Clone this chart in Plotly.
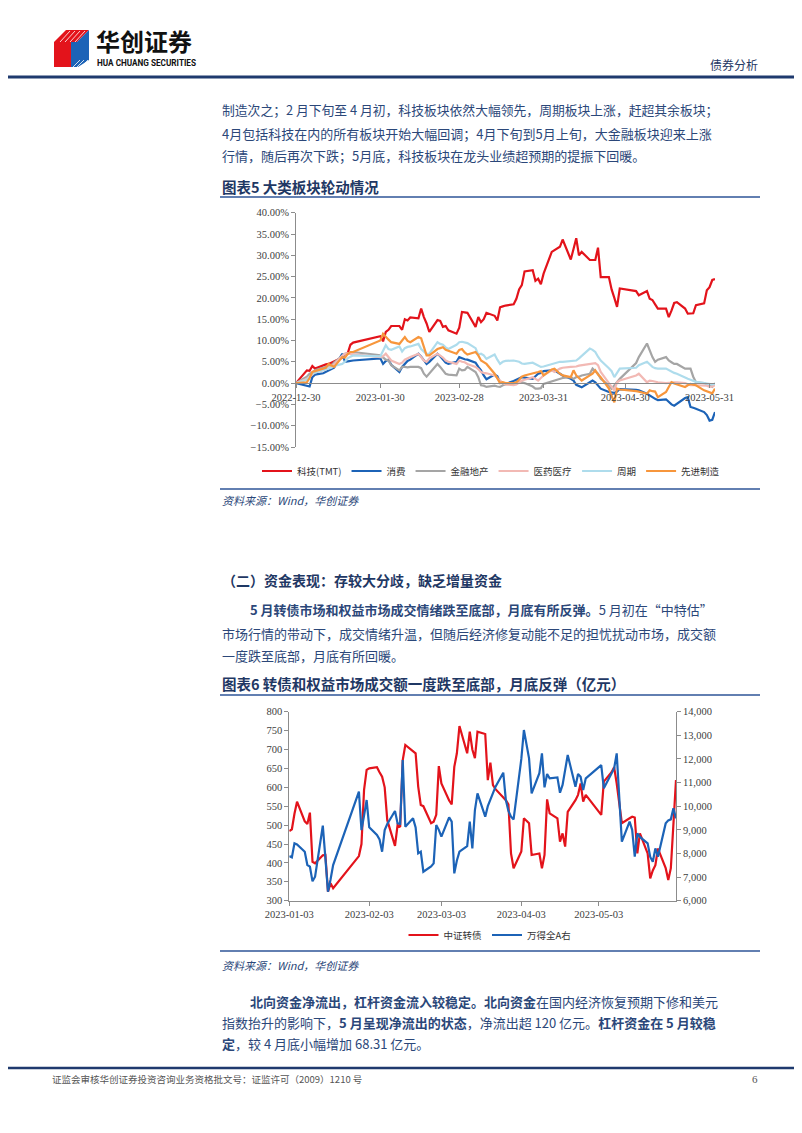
import plotly.graph_objects as go

# the page body adds an 8px offset, so the figure is laid out in page pixels
# and shifted back by that amount
PAGE_W, PAGE_H = 802, 1133
OFF = 8
W, H = PAGE_W - OFF, PAGE_H - 2 * OFF
CJK = "Noto Sans CJK SC"
NUM = "Liberation Serif"
BODY = "#2b4779"
HEAD = "#1f3864"
RULE = "#2e5597"


def px(x):
    return (x - OFF) / W


def py(y):
    return 1 - (y - OFF) / H


# ---------------- data ----------------
trade_days = [
    "2022-12-30",
    "2023-01-03", "2023-01-04", "2023-01-05", "2023-01-06", "2023-01-09", "2023-01-10", "2023-01-11",
    "2023-01-12", "2023-01-13", "2023-01-16", "2023-01-17", "2023-01-18", "2023-01-19", "2023-01-20",
    "2023-01-30", "2023-01-31",
    "2023-02-01", "2023-02-02", "2023-02-03", "2023-02-06", "2023-02-07", "2023-02-08", "2023-02-09",
    "2023-02-10", "2023-02-13", "2023-02-14", "2023-02-15", "2023-02-16", "2023-02-17", "2023-02-20",
    "2023-02-21", "2023-02-22", "2023-02-23", "2023-02-24", "2023-02-27", "2023-02-28",
    "2023-03-01", "2023-03-02", "2023-03-03", "2023-03-06", "2023-03-07", "2023-03-08", "2023-03-09",
    "2023-03-10", "2023-03-13", "2023-03-14", "2023-03-15", "2023-03-16", "2023-03-17", "2023-03-20",
    "2023-03-21", "2023-03-22", "2023-03-23", "2023-03-24", "2023-03-27", "2023-03-28", "2023-03-29",
    "2023-03-30", "2023-03-31",
    "2023-04-03", "2023-04-04", "2023-04-06", "2023-04-07", "2023-04-10", "2023-04-11", "2023-04-12",
    "2023-04-13", "2023-04-14", "2023-04-17", "2023-04-18", "2023-04-19", "2023-04-20", "2023-04-21",
    "2023-04-24", "2023-04-25", "2023-04-26", "2023-04-27", "2023-04-28",
    "2023-05-04", "2023-05-05", "2023-05-08", "2023-05-09", "2023-05-10", "2023-05-11", "2023-05-12",
    "2023-05-15", "2023-05-16", "2023-05-17", "2023-05-18", "2023-05-19", "2023-05-22", "2023-05-23",
    "2023-05-24", "2023-05-25", "2023-05-26", "2023-05-29", "2023-05-30", "2023-05-31",
    "2023-06-01", "2023-06-02",
]

# 图表5: cumulative return of sector groups (%)
tmt = [0, 3.0, 2.9, 4.0, 3.4, 4.2, 4.4, 4.5, 4.8, 5.0, 6.0, 6.8, 7.0, 9.0, 9.5, 11.0, 9.8,
       12.0, 12.5, 13.4, 13.4, 12.5, 15.0, 14.7, 15.4, 15.2, 17.5, 15.5, 14.0, 12.0, 14.8, 14.6, 13.2, 13.4, 12.4, 11.6, 13.0,
       16.7, 16.6, 16.5, 13.2, 15.5, 14.3, 15.0, 16.5, 15.8, 14.7, 17.8, 18.0, 18.2,
       18.5, 19.8, 22.0, 23.0, 26.2, 26.5, 24.0, 24.5, 23.2, 25.7,
       30.8, 31.2, 32.0, 33.7, 29.0, 31.5, 34.0, 30.0, 30.8, 28.9, 28.9, 28.9, 31.8, 24.9, 24.9, 22.0, 20.0, 17.9, 22.2,
       21.6, 20.6, 21.6, 19.8, 19.5, 18.5, 17.5, 17.5, 15.5, 17.0, 18.8, 19.0, 17.5, 16.3, 16.3, 16.4, 18.3, 18.7, 21.8, 22.5,
       24.2, 24.4]
consumer = [0, -0.5, -0.8, 1.4, 2.0, 2.3, 2.6, 3.0, 3.2, 3.6, 6.9, 5.0, 5.1, 5.2, 5.3, 5.8, 4.5,
            5.2, 5.5, 4.3, 2.6, 3.8, 4.5, 5.2, 5.5, 6.9, 6.2, 5.4, 4.5, 5.0, 6.9, 6.3, 5.5, 4.8, 4.5, 5.0, 6.1,
            5.8, 5.6, 5.5, 4.8, 3.8, 3.0, 1.8, 0.9, 2.0, 1.6, 0.2, 0.0, -0.2,
            0.5, 0.8, 1.0, 1.4, 1.3, 1.0, 1.6, 2.2, 2.4, 2.8,
            3.0, 3.0, 2.2, 1.8, 1.0, 0.6, -0.4, -0.8, -1.0, 0.2, 0.6, 0.2, -0.6, -1.3, -2.1, -2.2, -2.3, -2.0, -1.4,
            -1.6, -1.7, -2.5, -3.0, -3.3, -3.7, -4.0, -3.8, -4.5, -5.0, -5.3, -4.8, -3.5, -3.3, -5.6, -5.8, -6.0, -6.8, -7.5, -8.8,
            -8.6, -6.8]
finance_re = [0, 1.5, 2.2, 2.5, 3.0, 3.5, 3.8, 4.2, 4.0, 4.8, 6.4, 6.9, 7.0, 7.2, 7.3, 6.5, 6.0,
              5.5, 5.3, 4.2, 3.0, 3.8, 3.8, 3.7, 3.8, 3.8, 3.5, 2.2, 1.5, 2.2, 4.5, 3.8, 3.0, 2.2, 2.0, 1.8, 3.4,
              3.0, 3.1, 3.8, 2.6, 1.4, -0.5, -0.6, -0.9, -0.6, -0.8, -0.9, -0.5, -0.3,
              0.0, 0.2, 0.3, 0.2, 0.0, -0.8, -1.3, -1.3, -1.2, -0.2,
              0.4, 0.6, 1.0, 1.2, 1.4, 1.0, 1.4, 1.5, 1.8, 2.2, 3.4, 2.8, 2.2, 1.0, -0.5, -1.3, -0.5, 0.2, 1.0,
              4.7, 6.1, 9.3, 7.5, 6.1, 5.0, 5.5, 6.1, 5.3, 4.9, 4.5, 4.5, 3.4, 3.4, 3.4, 1.5, 0.2, 0.0, -0.3, -0.6,
              -0.9, 0.0]
healthcare = [0, 1.0, 1.5, 2.0, 2.5, 3.0, 3.2, 3.5, 3.8, 4.5, 6.4, 6.9, 7.0, 6.8, 6.8, 6.1, 6.3,
              6.9, 6.0, 5.3, 4.5, 4.8, 5.5, 5.9, 6.1, 6.9, 6.2, 5.3, 5.0, 5.8, 6.9, 6.5, 6.0, 5.3, 5.0, 4.5, 5.3,
              5.0, 4.9, 4.5, 3.8, 3.3, 2.6, 2.4, 2.3, 1.8, 1.2, 0.6, 0.0, -0.3,
              -0.5, -0.3, 0.2, 0.6, 0.8, 1.4, 1.0, 0.6, 1.2, 1.8,
              3.0, 2.6, 3.4, 3.6, 3.8, 3.8, 3.9, 4.1, 4.2, 4.6, 4.7, 4.7, 4.2, 2.6, 0.0, -1.0, -1.7, 0.2, 0.6,
              1.8, 2.2, 0.2, 0.6, 0.5, 0.3, 0.2, 0.0, 0.0, 0.1, 0.2, 0.2, 0.0, -0.2, -0.5, -0.5, -0.5, -0.5, -0.6, -0.9,
              -0.8, -0.5]
cyclical = [0, 0.8, 1.5, 2.2, 2.5, 3.0, 3.2, 3.5, 3.6, 4.0, 4.5, 5.0, 5.8, 6.2, 6.5, 6.3, 7.5,
            8.9, 8.0, 7.8, 8.6, 7.4, 8.2, 8.5, 8.6, 9.2, 8.0, 7.5, 6.8, 6.9, 9.6, 9.2, 9.0, 8.4, 8.0, 9.0, 9.6,
            9.7, 9.5, 9.4, 8.2, 6.7, 6.9, 6.5, 5.7, 6.7, 5.5, 4.5, 5.0, 5.2,
            5.3, 5.2, 5.0, 4.6, 4.5, 4.8, 4.5, 4.2, 3.8, 3.9,
            4.5, 4.6, 5.0, 5.0, 5.2, 5.2, 5.3, 5.8, 6.4, 8.1, 7.8, 7.3, 6.2, 5.3, 3.5, 2.8, 1.4, 2.5, 3.4,
            3.6, 4.2, 5.0, 4.4, 3.8, 3.5, 3.4, 3.4, 3.0, 2.6, 2.4, 2.2, 1.2, 1.0, 0.8, 0.6, 0.3, 0.0, -0.1, -0.3,
            -0.3, -0.2]
manufacturing = [0, 0.2, 1.2, 2.6, 2.8, 3.4, 3.6, 4.5, 4.2, 3.8, 6.1, 6.0, 6.8, 7.3, 7.3, 10.0, 11.6,
                 10.8, 10.2, 9.6, 9.2, 10.0, 10.8, 9.9, 9.6, 10.8, 10.5, 8.5, 6.5, 6.5, 8.0, 8.2, 8.4, 7.8, 7.6, 6.9, 7.8,
                 8.0, 7.2, 6.7, 7.3, 6.5, 5.3, 4.8, 4.5, 2.2, 1.0, 0.0, 0.2, 0.0,
                 0.0, 0.2, 0.8, 1.5, 1.8, 2.2, 2.4, 2.6, 2.8, 1.8,
                 3.2, 3.4, 2.2, 1.8, 1.4, 3.0, 1.8, 1.2, 0.6, 1.8, 2.2, 3.0, 2.0, 1.4, -1.3, -3.0, -4.5, -1.3, -1.5,
                 -1.9, -2.0, -2.5, -1.7, -1.9, -2.0, -3.3, -2.1, -0.9, 0.2, -0.1, -0.3, -0.9, -0.5, -0.2, -0.4, -0.5, -1.7, -1.9, -2.1,
                 -2.4, -1.3]

sector_names = ["科技(TMT)", "消费", "金融地产", "医药医疗", "周期", "先进制造"]
sector_colors = ["#e3131b", "#1c63b7", "#a5a5a5", "#f2b9b4", "#aedcec", "#f7963c"]
chart5_ticks = ["2022-12-30", "2023-01-30", "2023-02-28", "2023-03-31", "2023-04-30", "2023-05-31"]

# 图表6: turnover (亿元)
cb_turnover = [484, 489, 530, 562, 510, 503, 533, 403, 399, 420, 421, 324, 346, 333, 418, 450,
               593, 646, 650, 653, 640, 628, 600, 513, 445, 500, 495, 672, 712, 696, 690, 602, 553, 550, 505, 509,
               527, 656, 610, 565, 555, 654, 690, 762, 690, 747, 700, 677, 747, 741, 619, 665, 606, 595, 575, 566, 555, 425, 386,
               430, 518, 505, 421, 425, 386, 421, 568, 531, 518, 456, 478, 443, 535, 566, 580, 610, 562, 580,
               527, 615, 640, 653, 610, 557, 505, 518, 522, 520, 425, 478, 425, 359, 380, 394, 438, 386, 355, 386,
               500, 619]
a_turnover = [7890, 7834, 8426, 8380, 8074, 7510, 7439, 6820, 7016, 9180, 7800, 6380, 6900, 7510, 10614, 8990,
              9600, 10261, 9104, 8780, 8596, 8074, 8990, 9245, 9795, 9273, 9250, 11954, 9132, 9485, 9104, 8003, 8074, 7227, 7450, 7580,
              9203, 9000, 8709, 9527, 9344, 7157, 7700, 8074, 8314, 9344, 8215, 9837, 10543, 9555, 10000, 10261, 10500, 10826, 11418,
              10261, 9800, 9555, 9443,
              12000, 13224, 12025, 10543, 11400, 12236, 10797, 11362, 11178, 11220, 10571, 10900, 11500, 12166, 10826, 11362, 11249,
              10684, 11178,
              11742, 10755, 11400, 11600, 12236, 10120, 8497, 9344, 9000, 7862, 8850, 8700, 8427, 7850, 7650, 8215, 7862, 9273, 9400,
              9443,
              9908, 9485]
chart6_ticks = ["2023-01-03", "2023-02-03", "2023-03-03", "2023-04-03", "2023-05-03"]

# ---------------- figure ----------------
fig = go.Figure()

for name, vals, color in zip(sector_names,
                             [tmt, consumer, finance_re, healthcare, cyclical, manufacturing],
                             sector_colors):
    fig.add_trace(go.Scatter(x=trade_days, y=vals, name=name, mode="lines",
                             line=dict(color=color, width=2.2), xaxis="x", yaxis="y",
                             legend="legend"))

fig.add_trace(go.Scatter(x=trade_days[1:], y=cb_turnover, name="中证转债", mode="lines",
                         line=dict(color="#e3131b", width=2.2), xaxis="x2", yaxis="y2",
                         legend="legend2"))
fig.add_trace(go.Scatter(x=trade_days[1:], y=a_turnover, name="万得全A右", mode="lines",
                         line=dict(color="#1c63b7", width=2.2), xaxis="x2", yaxis="y3",
                         legend="legend2"))

axis_common = dict(showline=True, linecolor="#8c8c8c", linewidth=1, ticks="outside",
                   ticklen=4, tickcolor="#8c8c8c", showgrid=False, zeroline=False,
                   automargin=False,
                   tickfont=dict(family=NUM, size=10.5, color="#404040"))

fig.update_layout(
    width=W, height=H, margin=dict(l=0, r=0, t=0, b=0, autoexpand=False),
    paper_bgcolor="white", plot_bgcolor="rgba(0,0,0,0)",
    xaxis=dict(domain=[px(296), px(715)], type="date",
               range=["2022-12-30", "2023-06-02"], tickvals=chart5_ticks, ticktext=chart5_ticks,
               anchor="free", position=py(383), **axis_common),
    yaxis=dict(domain=[py(447), py(212.7)], range=[-15, 40], dtick=5, tick0=0,
               tickformat=".2f", ticksuffix="%", anchor="x", **axis_common),
    xaxis2=dict(domain=[px(289.3), px(676)], type="date",
                range=["2023-01-03", "2023-06-02"], tickvals=chart6_ticks, ticktext=chart6_ticks,
                anchor="y2", **axis_common),
    yaxis2=dict(domain=[py(900.7), py(711.7)], range=[300, 800], dtick=50,
                anchor="x2", **axis_common),
    yaxis3=dict(domain=[py(900.7), py(711.7)], range=[6000, 14000], dtick=1000,
                tickformat=",d", overlaying="y2", side="right", anchor="x2", **axis_common),
    legend=dict(orientation="h", x=px(491), xanchor="center", y=py(471), yanchor="middle",
                font=dict(family=CJK, size=9.5, color="#333333"), bgcolor="rgba(0,0,0,0)",
                itemwidth=30, traceorder="normal"),
    legend2=dict(orientation="h", x=px(490), xanchor="center", y=py(935), yanchor="middle",
                 font=dict(family=CJK, size=9.5, color="#333333"), bgcolor="rgba(0,0,0,0)",
                 itemwidth=30, traceorder="normal"),
    showlegend=True,
)

shapes = []


def hline(x0, x1, y, color=RULE, width=1.5):
    shapes.append(dict(type="line", xref="paper", yref="paper", x0=px(x0), x1=px(x1),
                       y0=py(y), y1=py(y), line=dict(color=color, width=width)))


def poly(points, color):
    path = "M " + " L ".join(f"{px(x):.5f},{py(y):.5f}" for x, y in points) + " Z"
    shapes.append(dict(type="path", xref="paper", yref="paper", path=path,
                       fillcolor=color, line=dict(width=0)))


# header / footer rules
hline(OFF, PAGE_W, 77, color="#1f3a6e", width=3)
hline(OFF, PAGE_W, 1068, color="#1f3a6e", width=2.5)
# chart rules
hline(220, 760, 197)
hline(220, 760, 489)
hline(220, 760, 695)
hline(220, 760, 951)

# logo mark
poly([(54, 42), (66, 30), (89, 30), (77, 42)], "#e3131b")
poly([(54, 42), (71, 42), (71, 67), (54, 67)], "#e3131b")
poly([(71, 42), (77, 42), (89, 30), (89, 60), (78, 67), (71, 67)], "#1c63b7")
for k in range(4):
    off = 5 * k
    shapes.append(dict(type="line", xref="paper", yref="paper",
                       x0=px(60 + off), x1=px(70 + off), y0=py(42), y1=py(31),
                       line=dict(color="white", width=0.8)))
    shapes.append(dict(type="line", xref="paper", yref="paper",
                       x0=px(73 + off * 0.8), x1=px(80 + off * 0.8), y0=py(67), y1=py(60),
                       line=dict(color="white", width=0.8)))

fig.update_layout(shapes=shapes)


def note(x, y, text, size=13, color=BODY, anchor="left", family=CJK):
    fig.add_annotation(x=px(x), y=py(y), xref="paper", yref="paper", text=text,
                       showarrow=False, xanchor=anchor, yanchor="middle",
                       font=dict(family=family, size=size, color=color))


# header text
note(94, 40, "<b>华创证券</b>", size=24, color="#111111")
note(95, 62.5, "<b>HUA CHUANG SECURITIES</b>", size=8.2, color="#111111", family="Roboto")
note(760, 64, "债券分析", size=12, color=HEAD, anchor="right")

# paragraph above chart 5
note(220, 110, "制造次之；2 月下旬至 4 月初，科技板块依然大幅领先，周期板块上涨，赶超其余板块；", size=12.8)
note(220, 133, "4月包括科技在内的所有板块开始大幅回调；4月下旬到5月上旬，大金融板块迎来上涨")
note(220, 155, "行情，随后再次下跌；5月底，科技板块在龙头业绩超预期的提振下回暖。")
note(220, 186, "<b>图表5 大类板块轮动情况</b>", size=14.5, color=HEAD)
note(220, 500, "<i>资料来源：Wind，华创证券</i>", size=11)

# section 2
note(220, 580, "<b>（二）资金表现：存较大分歧，缺乏增量资金</b>", size=14, color=HEAD)
note(248, 610, "<b>5 月转债市场和权益市场成交情绪跌至底部，月底有所反弹。</b>5 月初在“中特估”")
note(220, 633, "市场行情的带动下，成交情绪升温，但随后经济修复动能不足的担忧扰动市场，成交额")
note(220, 655, "一度跌至底部，月底有所回暖。")
note(220, 683, "<b>图表6 转债和权益市场成交额一度跌至底部，月底反弹（亿元）</b>", size=14.5, color=HEAD)
note(220, 965, "<i>资料来源：Wind，华创证券</i>", size=11)

# closing paragraph
note(248, 1001, "<b>北向资金净流出，杠杆资金流入较稳定。北向资金</b>在国内经济恢复预期下修和美元")
note(220, 1022, "指数抬升的影响下，<b>5 月呈现净流出的状态</b>，净流出超 120 亿元。<b>杠杆资金在 5 月较稳</b>")
note(220, 1043, "<b>定</b>，较 4 月底小幅增加 68.31 亿元。")

# footer
note(50, 1079, "证监会审核华创证券投资咨询业务资格批文号：证监许可（2009）1210 号", size=9.5, color="#555555")
note(760, 1079, "6", size=11, color="#555555", anchor="right", family=NUM)

fig.write_html("out.html")
